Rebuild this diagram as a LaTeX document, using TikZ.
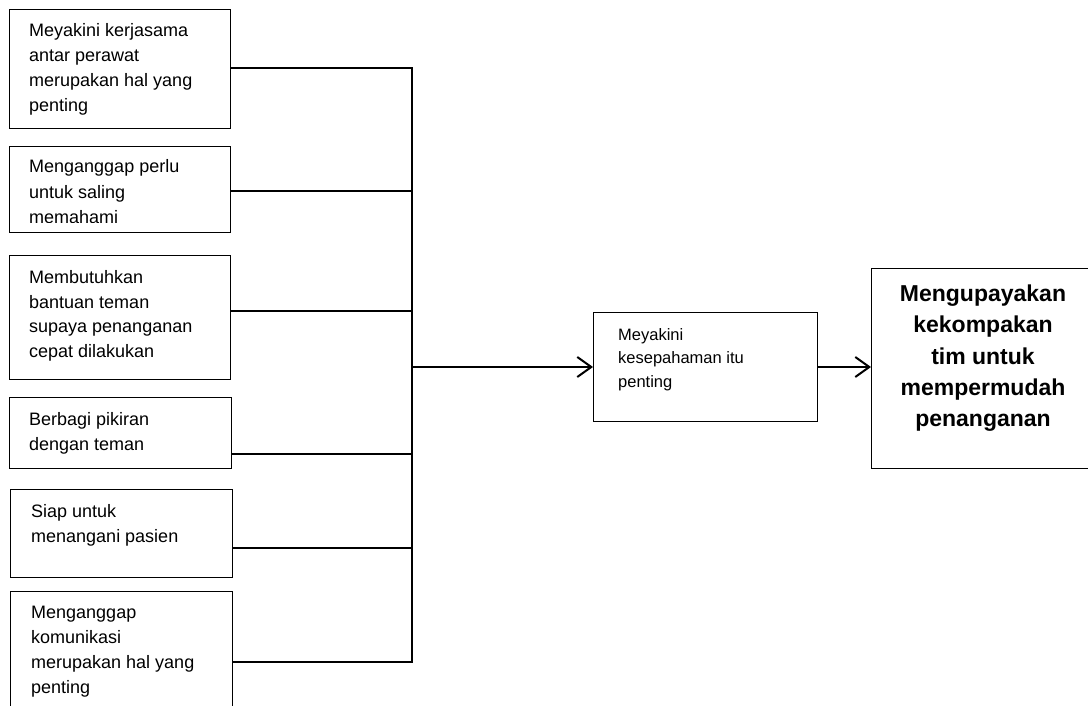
\documentclass[tikz,border=0pt]{standalone}
\usepackage{fontspec}
\setmainfont{Liberation Sans}
\usetikzlibrary{arrows.meta}
\newcommand\lft[1]{\begin{tabular}[t]{@{}l@{}}#1\end{tabular}}
\newcommand\ctr[1]{\begin{tabular}[t]{@{}c@{}}#1\end{tabular}}
\begin{document}
\begin{tikzpicture}[x=1pt,y=-1pt,
  box/.style={draw, line width=1.2pt, rectangle, inner sep=0pt, anchor=north west},
  conn/.style={line width=2pt},
  arr/.style={line width=2pt, -{Straight Barb[length=14pt,width=20pt,line width=2pt]}},
  txt/.style={anchor=base west, inner sep=0pt, font=\fontsize{18}{25}\selectfont},
  midtxt/.style={anchor=base west, inner sep=0pt, font=\fontsize{16.5}{23.5}\selectfont},
  restxt/.style={anchor=base, inner sep=0pt, font=\fontsize{23}{31.5}\selectfont\bfseries},
]
\useasboundingbox (0,0) rectangle (1088,706);
\clip (0,0) rectangle (1088,706);

% left boxes
\node[box, minimum width=221pt, minimum height=119pt] (b1) at (9,9) {};
\node[txt] (t1) at (29,37) {\lft{Meyakini kerjasama\\antar perawat\\merupakan hal yang\\penting}};

\node[box, minimum width=221pt, minimum height=86pt] (b2) at (9,146) {};
\begin{scope}
\clip (9,146) rectangle (230,222.5);
\node[txt, font=\fontsize{18}{25.5}\selectfont] (t2) at (29,173) {\lft{Menganggap perlu\\untuk saling\\memahami}};
\end{scope}

\node[box, minimum width=221pt, minimum height=124pt] (b3) at (9,255) {};
\node[txt] (t3) at (29,283) {\lft{Membutuhkan\\bantuan teman\\supaya penanganan\\cepat dilakukan}};

\node[box, minimum width=222pt, minimum height=71pt] (b4) at (9,397) {};
\node[txt] (t4) at (29,425) {\lft{Berbagi pikiran\\dengan teman}};

\node[box, minimum width=222pt, minimum height=88pt] (b5) at (10,489) {};
\node[txt] (t5) at (31,517) {\lft{Siap untuk\\menangani pasien}};

\node[box, minimum width=222pt, minimum height=140pt] (b6) at (10,591) {};
\node[txt] (t6) at (31,618) {\lft{Menganggap\\komunikasi\\merupakan hal yang\\penting}};

% middle and result boxes
\node[box, minimum width=224pt, minimum height=109pt] (mid) at (593,312) {};
\node[midtxt] (tm) at (618,340) {\lft{Meyakini\\kesepahaman itu\\penting}};

\node[box, minimum width=240pt, minimum height=200pt] (res) at (871,268) {};
\node[restxt] (tr) at (983,301) {\ctr{Mengupayakan\\kekompakan\\tim untuk\\mempermudah\\penanganan}};

% junctions
\coordinate (j1) at (412,68);
\coordinate (j2) at (412,191);
\coordinate (j3) at (412,311);
\coordinate (j4) at (412,454);
\coordinate (j5) at (412,548);
\coordinate (j6) at (412,662);
\coordinate (jm) at (412,367);

\draw[conn] (b1.east |- j1) -- (j1);
\draw[conn] (b2.east |- j2) -- (j2);
\draw[conn] (b3.east |- j3) -- (j3);
\draw[conn] (b4.east |- j4) -- (j4);
\draw[conn] (b5.east |- j5) -- (j5);
\draw[conn] (b6.east |- j6) -- (j6);

\draw[line width=1.8pt, line cap=rect] (j1) -- (jm);
\draw[line width=2.4pt, line cap=rect] (jm) -- (j6);

\draw[arr] (jm) -- (mid.west |- jm);
\draw[arr] (mid.east |- jm) -- (res.west |- jm);
\end{tikzpicture}
\end{document}
